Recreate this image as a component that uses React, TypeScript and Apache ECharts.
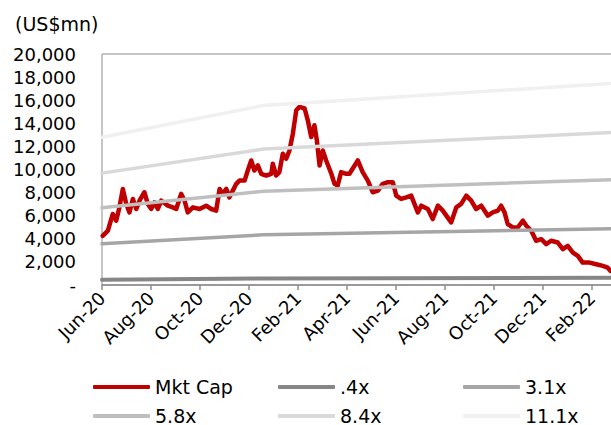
import React, { useEffect, useRef } from "react";
import * as echarts from "echarts";

// x positions are months elapsed since 1 Jun 2020
const tickLabels = ["Jun-20", "Aug-20", "Oct-20", "Dec-20", "Feb-21", "Apr-21", "Jun-21", "Aug-21", "Oct-21", "Dec-21", "Feb-22", "Apr-22"];
const yUnitLabel = "(US$mn)";

const mktCapMonths = [
  0.03, 0.24, 0.44, 0.58, 0.71, 0.85, 0.99, 1.12, 1.26, 1.4, 1.53, 1.73, 1.87, 2.01, 2.14, 2.28, 2.42, 2.69, 2.89, 3.03,
  3.23, 3.37, 3.5, 3.71, 3.98, 4.25, 4.46, 4.66, 4.8, 4.93, 5.07, 5.2, 5.34, 5.48, 5.61, 5.82, 5.95, 6.09, 6.22, 6.36,
  6.5, 6.7, 6.91, 6.97, 7.11, 7.24, 7.38, 7.52, 7.65, 7.79, 7.93, 8.06, 8.27, 8.4, 8.54, 8.67, 8.77, 8.88, 9.01, 9.15,
  9.36, 9.49, 9.62, 9.76, 9.97, 10.1, 10.44, 10.64, 10.85, 11.05, 11.26, 11.46, 11.67, 11.87, 12.01, 12.21, 12.42, 12.62,
  12.89, 13.03, 13.3, 13.5, 13.71, 13.91, 14.25, 14.46, 14.66, 14.87, 15.07, 15.27, 15.48, 15.75, 15.95, 16.16, 16.29,
  16.43, 16.56, 16.77, 16.97, 17.18, 17.32, 17.52, 17.72, 17.93, 18.13, 18.33, 18.6, 18.81, 19.01, 19.22, 19.42, 19.62,
  19.9, 20.17, 20.44, 20.64, 20.76,
];
const mktCapValues = [
  4260, 4700, 6150, 5570, 6720, 8320, 7020, 6290, 7450, 6580, 7300, 8030, 7020, 6580, 7160, 6580, 7300, 6870, 6720, 6580,
  7890, 7300, 6290, 6720, 6580, 6870, 6580, 6440, 8320, 7890, 8320, 7590, 8170, 8760, 9040, 9040, 9910, 10780, 9910, 10350,
  9630, 9480, 9630, 10500, 9480, 9770, 11370, 10930, 11650, 13100, 15130, 15420, 15280, 14260, 12810, 13830, 12520, 10350, 11650, 10780,
  9630, 8760, 8610, 9770, 9630, 9630, 10780, 9770, 9040, 8030, 8170, 8760, 8900, 8900, 7740, 7450, 7590, 7740,
  6290, 6870, 6580, 5710, 6870, 6440, 5420, 6720, 7020, 7740, 7300, 6580, 6870, 6000, 6290, 6440, 6870,
  6290, 5280, 4980, 4980, 5570, 5130, 4700, 3830, 3970, 3540, 3830, 3680, 3100, 3390, 2810, 2520, 1940,
  1940, 1800, 1650, 1500, 1220,
];

// band lines (P/E multiples), read at start, kink and right end
const bandMonths = [0, 6.6, 22];
const band04 = [461, 560, 635];
const band31 = [3575, 4343, 4920];
const band58 = [6690, 8126, 9205];
const band84 = [9685, 11770, 13330];
const band111 = [12800, 15550, 17616];

const FONT = "DejaVu Sans";

export default function App() {
  const ref = useRef<HTMLDivElement>(null);
  useEffect(() => {
    if (!ref.current) return;
    const chart = echarts.init(ref.current, null, { renderer: "svg" });
    const pair = (xs: number[], ys: number[]) => xs.map((x, i) => [x, ys[i]]);
    const band = (name: string, color: string, vals: number[], width: number) => ({
      name,
      type: "line",
      data: pair(bandMonths, vals),
      symbol: "none",
      showSymbol: false,
      itemStyle: { color },
      lineStyle: { color, width, cap: "round" },
    });
    const legendAt = (name: string, left: number, top: number) => ({
      orient: "horizontal",
      icon: "roundRect",
      itemWidth: 57,
      itemHeight: 4,
      left,
      top,
      padding: 0,
      selectedMode: false,
      data: [name],
      textStyle: { fontFamily: FONT, fontSize: 19, color: "#000", lineHeight: 22 },
    });
    chart.setOption({
      animation: false,
      backgroundColor: "#fff",
      title: {
        text: yUnitLabel,
        left: 15,
        top: 14,
        padding: 0,
        textStyle: { fontFamily: FONT, fontSize: 19, fontWeight: "normal", color: "#000" },
      },
      legend: [
        legendAt("Mkt Cap", 93, 376),
        legendAt(".4x", 278, 376),
        legendAt("3.1x", 463, 376),
        legendAt("5.8x", 93, 405),
        legendAt("8.4x", 278, 405),
        legendAt("11.1x", 463, 405),
      ],
      grid: {
        left: 102,
        top: 54,
        width: 539,
        height: 231,
        show: true,
        borderColor: "#8c8c8c",
        borderWidth: 1,
        backgroundColor: "transparent",
      },
      xAxis: {
        type: "value",
        min: 0,
        max: 22,
        interval: 2,
        splitLine: { show: false },
        axisLine: { show: true, lineStyle: { color: "#8c8c8c", width: 1.5 } },
        axisTick: { show: true, length: 5, lineStyle: { color: "#8c8c8c", width: 1.5 } },
        axisLabel: {
          rotate: 45,
          margin: 10,
          fontFamily: FONT,
          fontSize: 18,
          color: "#000",
          showMaxLabel: false,
          formatter: (v: number) => (v > 21 ? "" : tickLabels[Math.round(v / 2)] || ""),
        },
      },
      yAxis: {
        type: "value",
        min: 0,
        max: 20000,
        interval: 2000,
        splitLine: { show: false },
        axisLine: { show: false },
        axisTick: { show: false },
        axisLabel: {
          margin: 26,
          fontFamily: FONT,
          fontSize: 18,
          color: "#000",
          formatter: (v: number) => (v === 0 ? "-" : v.toLocaleString("en-US")),
        },
      },
      series: [
        {
          name: "Mkt Cap",
          type: "line",
          data: pair(mktCapMonths, mktCapValues),
          symbol: "none",
          showSymbol: false,
          itemStyle: { color: "#c00000" },
          lineStyle: { color: "#c00000", width: 4.5, cap: "round", join: "round" },
        },
        band(".4x", "#868686", band04, 4),
        band("3.1x", "#a6a6a6", band31, 3.5),
        band("5.8x", "#bfbfbf", band58, 3.5),
        band("8.4x", "#d9d9d9", band84, 3.5),
        band("11.1x", "#f0f0f0", band111, 3.5),
      ],
    });
    return () => chart.dispose();
  }, []);
  return (
    <div style={{ position: "fixed", left: 0, top: 0, width: 611, height: 425, overflow: "hidden", background: "#fff" }}>
      <div ref={ref} style={{ width: 660, height: 425 }} />
    </div>
  );
}
